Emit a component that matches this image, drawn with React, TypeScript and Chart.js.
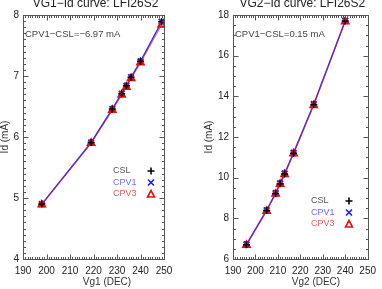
import React, { useEffect, useRef } from "react";
import { Chart, registerables } from "chart.js";

Chart.register(...registerables);

// Left panel data (Vg1 sweep)
const vg1 = [198, 219, 228, 232, 234, 236, 240, 249];
const vg1Csl = [4.9, 5.91, 6.46, 6.71, 6.84, 6.98, 7.24, 7.89];
const vg1Cpv1 = [4.9, 5.91, 6.46, 6.71, 6.84, 6.98, 7.24, 7.89];
const vg1Cpv3 = [4.89, 5.9, 6.44, 6.69, 6.82, 6.96, 7.22, 7.84];
const vg1XTicks = [190, 200, 210, 220, 230, 240, 250];
const vg1YTicks = [4, 5, 6, 7, 8];

// Right panel data (Vg2 sweep)
const vg2 = [196, 205, 209, 211, 213, 217, 226, 240];
const vg2Csl = [6.7, 8.38, 9.22, 9.7, 10.18, 11.2, 13.6, 17.7];
const vg2Cpv1 = [6.72, 8.4, 9.24, 9.72, 10.2, 11.22, 13.62, 17.72];
const vg2Cpv3 = [6.68, 8.36, 9.2, 9.68, 10.16, 11.18, 13.56, 17.68];
const vg2XTicks = [190, 200, 210, 220, 230, 240, 250];
const vg2YTicks = [6, 8, 10, 12, 14, 16, 18];

const FONT = "'Liberation Sans', Arial, sans-serif";

type PanelProps = {
  xs: number[];
  csl: number[];
  cpv1: number[];
  cpv3: number[];
  xTicks: number[];
  yTicks: number[];
  xMinor: number;
  yMinor: number;
  title: string;
  xTitle: string;
  note: string;
  legendX: number;
  legendY: number;
  xTitleX: number;
  yTitleX: number;
  yAxisW: number;
  padRight: number;
};

function Panel(p: PanelProps) {
  const ref = useRef<HTMLCanvasElement>(null);
  useEffect(() => {
    const canvas = ref.current!;
    const deco = {
      id: "deco",
      afterDraw(chart: any) {
        const ctx = chart.ctx;
        const a = chart.chartArea;
        const xs = chart.scales.x;
        const ys = chart.scales.y;
        ctx.save();
        ctx.strokeStyle = "#555";
        ctx.lineWidth = 1;
        const L = Math.round(a.left) + 0.5, R = Math.round(a.right) + 0.5;
        const T = Math.round(a.top) + 0.5, B = Math.round(a.bottom) + 0.5;
        ctx.strokeRect(L, T, R - L, B - T);
        ctx.beginPath();
        const xmin = p.xTicks[0], xmax = p.xTicks[p.xTicks.length - 1];
        for (let v = xmin; v <= xmax + 1e-9; v += p.xMinor) {
          const major = p.xTicks.some((t) => Math.abs(t - v) < 1e-6);
          const len = major ? 5 : 2.5;
          const px = Math.round(xs.getPixelForValue(v)) + 0.5;
          ctx.moveTo(px, B); ctx.lineTo(px, B - len);
          ctx.moveTo(px, T); ctx.lineTo(px, T + len);
        }
        const ymin = p.yTicks[0], ymax = p.yTicks[p.yTicks.length - 1];
        for (let v = ymin; v <= ymax + 1e-9; v += p.yMinor) {
          const major = p.yTicks.some((t) => Math.abs(t - v) < 1e-6);
          const len = major ? 5 : 2.5;
          const py = Math.round(ys.getPixelForValue(v)) + 0.5;
          ctx.moveTo(L, py); ctx.lineTo(L + len, py);
          ctx.moveTo(R, py); ctx.lineTo(R - len, py);
        }
        ctx.stroke();

        // title
        ctx.fillStyle = "#222";
        ctx.font = `12px ${FONT}`;
        ctx.textAlign = "center";
        ctx.textBaseline = "middle";
        ctx.fillText(p.title, (a.left + a.right) / 2 + 2, 4);
        // x title
        ctx.font = `10px ${FONT}`;
        ctx.fillStyle = "#333";
        ctx.fillText(p.xTitle, p.xTitleX, 282);
        // y title
        ctx.save();
        ctx.translate(p.yTitleX, (a.top + a.bottom) / 2);
        ctx.rotate(-Math.PI / 2);
        ctx.fillText("Id (mA)", 0, 0);
        ctx.restore();
        // note
        ctx.textAlign = "left";
        ctx.font = `9.5px ${FONT}`;
        ctx.fillStyle = "#444";
        ctx.fillText(p.note, a.left + 2, 34);

        // legend
        const items = [
          { t: "CSL", c: "#555", s: "plus", sc: "#000" },
          { t: "CPV1", c: "#6a6aff", s: "x", sc: "#1a1aff" },
          { t: "CPV3", c: "#e05a5a", s: "tri", sc: "#dd1111" },
        ];
        ctx.font = `9px ${FONT}`;
        items.forEach((it, i) => {
          const y = p.legendY + i * 11.5;
          ctx.fillStyle = it.c;
          ctx.textAlign = "left";
          ctx.fillText(it.t, p.legendX, y);
          const sx = p.legendX + 38;
          ctx.strokeStyle = it.sc;
          ctx.lineWidth = 1.6;
          ctx.beginPath();
          if (it.s === "plus") {
            ctx.moveTo(sx - 3.5, y); ctx.lineTo(sx + 3.5, y);
            ctx.moveTo(sx, y - 3.5); ctx.lineTo(sx, y + 3.5);
          } else if (it.s === "x") {
            ctx.moveTo(sx - 3, y - 3); ctx.lineTo(sx + 3, y + 3);
            ctx.moveTo(sx + 3, y - 3); ctx.lineTo(sx - 3, y + 3);
          } else {
            ctx.moveTo(sx, y - 3.5); ctx.lineTo(sx + 3.5, y + 3); ctx.lineTo(sx - 3.5, y + 3); ctx.closePath();
          }
          ctx.stroke();
        });
        ctx.restore();
      },
    };
    const mk = (ys: number[]) => p.xs.map((x, i) => ({ x, y: ys[i] }));
    const chart = new Chart(canvas, {
      type: "line",
      data: {
        datasets: [
          {
            label: "CPV1",
            order: 2,
            data: mk(p.cpv1),
            borderColor: "#3030ff",
            borderWidth: 1.4,
            pointStyle: "crossRot",
            pointRadius: 4,
            pointBorderWidth: 2,
            pointBorderColor: "#1a1aff",
            pointBackgroundColor: "transparent",
          },
          {
            label: "CPV3",
            order: 1,
            data: mk(p.cpv3),
            borderColor: "rgba(200,20,40,0.6)",
            borderWidth: 1.2,
            pointStyle: "triangle",
            pointRadius: 4,
            pointBorderWidth: 1.8,
            pointBorderColor: "#dd1111",
            pointBackgroundColor: "transparent",
          },
          {
            label: "CSL",
            order: 0,
            data: mk(p.csl),
            borderColor: "rgba(0,0,0,0)",
            borderWidth: 0,
            pointStyle: "cross",
            pointRadius: 3.5,
            pointBorderWidth: 1.5,
            pointBorderColor: "#000",
            pointBackgroundColor: "transparent",
          },
        ],
      },
      options: {
        responsive: false,
        animation: false,
        layout: { padding: { left: 0, right: p.padRight, top: 15, bottom: 0 } },
        plugins: { legend: { display: false }, tooltip: { enabled: false }, title: { display: false } },
        scales: {
          x: {
            type: "linear",
            min: p.xTicks[0],
            max: p.xTicks[p.xTicks.length - 1],
            grid: { display: false, drawTicks: false },
            border: { display: false },
            afterBuildTicks: (s: any) => { s.ticks = p.xTicks.map((v) => ({ value: v })); },
            afterFit: (s: any) => { s.height = 30; },
            ticks: { font: { size: 10, family: FONT }, color: "#222", padding: 6, maxRotation: 0, autoSkip: false },
          },
          y: {
            type: "linear",
            min: p.yTicks[0],
            max: p.yTicks[p.yTicks.length - 1],
            grid: { display: false, drawTicks: false },
            border: { display: false },
            afterBuildTicks: (s: any) => { s.ticks = p.yTicks.map((v) => ({ value: v })); },
            afterFit: (s: any) => { s.width = p.yAxisW; },
            ticks: { font: { size: 10, family: FONT }, color: "#222", padding: 4, autoSkip: false },
          },
        },
      },
      plugins: [deco],
    });
    return () => chart.destroy();
  }, []);
  return <canvas ref={ref} width={191} height={289} style={{ display: "block", width: 191, height: 289 }} />;
}

export default function App() {
  useEffect(() => {
    document.body.style.margin = "0";
  }, []);
  return (
    <div style={{ display: "flex", width: 382, height: 289, background: "#fff" }}>
      <Panel
        xs={vg1} csl={vg1Csl} cpv1={vg1Cpv1} cpv3={vg1Cpv3}
        xTicks={vg1XTicks} yTicks={vg1YTicks} xMinor={1} yMinor={0.1}
        title="VG1−Id curve: LFI26S2" xTitle="Vg1 (DEC)" note="CPV1−CSL=−6.97 mA"
        legendX={113} legendY={171} xTitleX={107} yTitleX={5} yAxisW={23} padRight={27}
      />
      <Panel
        xs={vg2} csl={vg2Csl} cpv1={vg2Cpv1} cpv3={vg2Cpv3}
        xTicks={vg2XTicks} yTicks={vg2YTicks} xMinor={1} yMinor={0.5}
        title="VG2−Id curve: LFI26S2" xTitle="Vg2 (DEC)" note="CPV1−CSL=0.15 mA"
        legendX={120} legendY={201} xTitleX={125} yTitleX={18} yAxisW={42} padRight={8}
      />
    </div>
  );
}
